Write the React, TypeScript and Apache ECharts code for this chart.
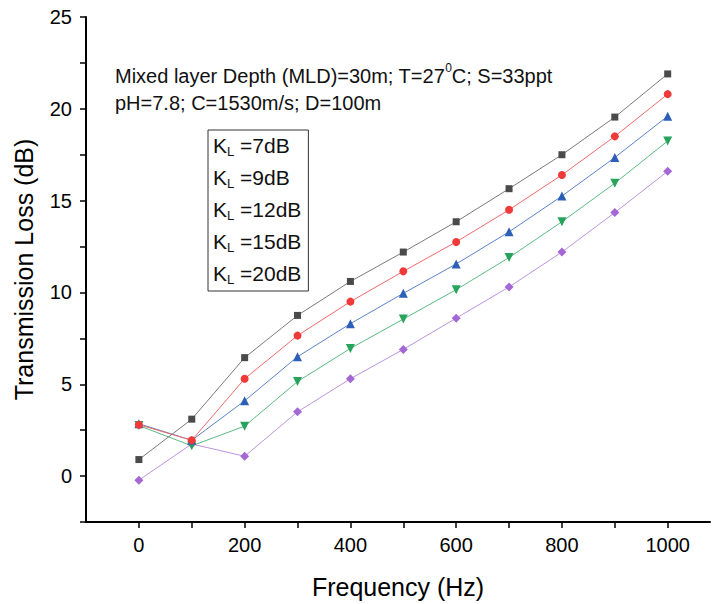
import React, { useEffect, useRef } from "react";
import * as echarts from "echarts";

const frequencies = [0, 100, 200, 300, 400, 500, 600, 700, 800, 900, 1000];
const xTickValues = [0, 100, 200, 300, 400, 500, 600, 700, 800, 900, 1000];
const xLabelValues = [0, 200, 400, 600, 800, 1000];
const seriesNames = ["7dB", "9dB", "12dB", "15dB", "20dB"];
const kl7 = [0.9, 3.1, 6.45, 8.75, 10.6, 12.2, 13.85, 15.65, 17.5, 19.55, 21.9];
const kl9 = [2.8, 1.95, 5.3, 7.65, 9.5, 11.15, 12.75, 14.5, 16.4, 18.5, 20.8];
const kl12 = [2.85, 1.95, 4.1, 6.5, 8.3, 9.95, 11.55, 13.3, 15.25, 17.35, 19.6];
const kl15 = [2.75, 1.65, 2.72, 5.15, 6.95, 8.55, 10.15, 11.9, 13.85, 15.95, 18.25];
const kl20 = [-0.22, 1.75, 1.08, 3.5, 5.3, 6.9, 8.6, 10.3, 12.2, 14.35, 16.6];
const allValues = [kl7, kl9, kl12, kl15, kl20];
const colors = ["#4a4a4a", "#f03a3a", "#2d5fb8", "#27a35c", "#a468d6"];
const lineColors = ["#7a7a7a", "#f06a6a", "#5a82c8", "#5cbb84", "#bb94e0"];
const symbols = ["rect", "circle", "triangle", "triangle", "diamond"];
const symbolSizes = [7, 8, 9, 9, 9];
const symbolRotates = [0, 0, 0, 180, 0];

const FONT = "Liberation Sans, Arial, sans-serif";

export default function App() {
  const ref = useRef<HTMLDivElement>(null);
  useEffect(() => {
    if (!ref.current) return;
    const chart = echarts.init(ref.current, null, { renderer: "svg" });
    const series = seriesNames.map((name, i) => ({
      name,
      type: "line",
      data: frequencies.map((f, j) => [f, allValues[i][j]]),
      symbol: symbols[i],
      symbolSize: symbolSizes[i],
      symbolRotate: symbolRotates[i],
      itemStyle: { color: colors[i] },
      lineStyle: { color: lineColors[i], width: 1 },
      z: 10 - i,
    }));
    chart.setOption({
      animation: false,
      backgroundColor: "#fff",
      textStyle: { fontFamily: FONT },
      grid: { left: 86, right: 4, top: 17, bottom: 82, containLabel: false },
      xAxis: {
        type: "value",
        min: -100,
        max: 1080,
        name: "Frequency (Hz)",
        nameLocation: "middle",
        nameGap: 52,
        nameTextStyle: { fontSize: 25, color: "#000", fontFamily: FONT },
        axisLine: { show: true, onZero: false, lineStyle: { color: "#000", width: 2 } },
        axisTick: { show: true, inside: false, length: 6, customValues: xTickValues, lineStyle: { color: "#000", width: 1.5 } },
        axisLabel: {
          fontSize: 20,
          color: "#000",
          margin: 13,
          customValues: xLabelValues,
          formatter: (v: number) => String(v),
        },
        splitLine: { show: false },
      },
      yAxis: {
        type: "value",
        min: -2.5,
        max: 25,
        interval: 2.5,
        name: "Transmission Loss (dB)",
        nameLocation: "middle",
        nameGap: 50,
        nameTextStyle: { fontSize: 25, color: "#000", fontFamily: FONT },
        axisLine: { show: true, onZero: false, lineStyle: { color: "#000", width: 2 } },
        axisTick: { show: true, inside: false, length: 6, lineStyle: { color: "#000", width: 1.5 } },
        axisLabel: {
          fontSize: 20,
          color: "#000",
          margin: 14,
          formatter: (v: number) => (v >= 0 && v % 5 === 0 ? String(v) : ""),
        },
        splitLine: { show: false },
      },
      legend: {
        data: seriesNames,
        orient: "vertical",
        left: 208,
        top: 130,
        icon: "none",
        itemWidth: 0,
        itemHeight: 14,
        itemGap: 9,
        padding: [5, 7, 5, 0],
        borderColor: "#333",
        borderWidth: 1,
        selectedMode: false,
        formatter: (n: string) => `{k|K}{s|L}{k| =${n}}`,
        textStyle: {
          color: "#111",
          fontFamily: FONT,
          rich: {
            k: { fontSize: 21, color: "#111", fontFamily: FONT, lineHeight: 25 },
            s: { fontSize: 13, color: "#111", fontFamily: FONT, verticalAlign: "bottom", lineHeight: 25, padding: [9, 0, 0, 0] },
          },
        },
      },
      graphic: [
        {
          type: "text",
          left: 115,
          top: 62,
          style: {
            text: "Mixed layer Depth (MLD)=30m; T=27{sup|0}C; S=33ppt\npH=7.8; C=1530m/s; D=100m",
            fontSize: 20,
            fontFamily: FONT,
            fill: "#111",
            lineHeight: 27,
            rich: {
              sup: { fontSize: 12, fontFamily: FONT, fill: "#111", verticalAlign: "top", padding: [0, 0, 9, 0] },
            },
          },
        },
      ],
      series,
    });
    return () => chart.dispose();
  }, []);
  return (
    <div
      ref={ref}
      style={{ position: "absolute", left: 0, top: 0, width: 714, height: 604, background: "#fff" }}
    />
  );
}
